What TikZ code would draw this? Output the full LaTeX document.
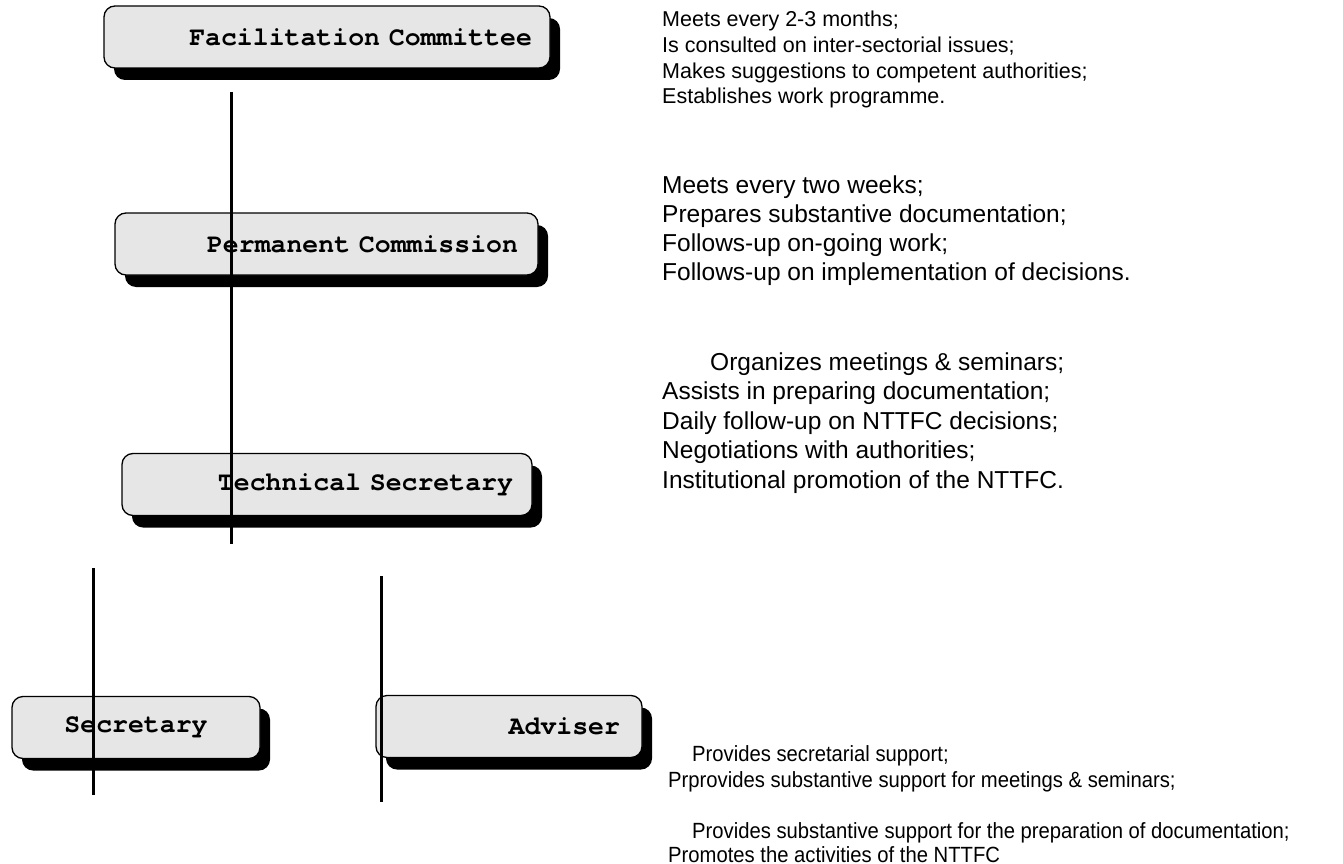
\documentclass[tikz,border=0pt]{standalone}
\usepackage{fontspec}
\setmainfont{Liberation Sans}
\newfontfamily\boxfont{TeX Gyre Cursor}
\newfontfamily\narrowfont{Liberation Sans}[FakeStretch=0.92]
\usetikzlibrary{shadows}
\definecolor{boxgray}{HTML}{E6E6E6}
\newcommand{\boxtextfont}{\boxfont\bfseries\fontsize{26.5}{30}\selectfont
  \spaceskip=0.62em\relax\xspaceskip=0.62em\relax}
\begin{document}
\begin{tikzpicture}[x=1pt,y=-1pt,
  orgbox/.style={draw=black, line width=1.3pt, fill=boxgray, rounded corners=11pt,
    font=\boxtextfont,
    drop shadow={fill=black, opacity=1, shadow xshift=10pt, shadow yshift=-12pt},
    inner ysep=0pt, minimum height=62pt},
  vline/.style={line width=3pt, black},
  smallnote/.style={anchor=base west, inner sep=0pt, font=\fontsize{21.5}{25}\selectfont},
  bignote/.style={anchor=base west, inner sep=0pt, font=\fontsize{24.5}{28}\selectfont},
  narrownote/.style={anchor=base west, inner sep=0pt, font=\narrowfont\fontsize{22}{26}\selectfont}]
\useasboundingbox (0,0) rectangle (1343,864);

% boxes
\node[orgbox, minimum width=446pt, inner xsep=18pt, text width=410pt, align=right] (fc) at (327,37) {Facilitation Committee};
\node[orgbox, minimum width=423pt, inner xsep=20pt, text width=383pt, align=right] (pc) at (326.5,244) {Permanent Commission};
\node[orgbox, minimum width=410pt, inner xsep=19pt, text width=372pt, align=right] (ts) at (327,484.5) {Technical Secretary};
\node[orgbox, minimum width=248pt, inner xsep=20pt, text width=208pt, align=center] (sec) at (136,727.5) {Secretary};
\node[orgbox, minimum width=266pt, inner xsep=22pt, text width=222pt, align=right] (adv) at (509,726.5) {Adviser};

% vertical lines
\coordinate (l1top) at (231,92);
\coordinate (l1bot) at (231,544);
\coordinate (l2top) at (93,568);
\coordinate (l2bot) at (93,795);
\coordinate (l3top) at (381,576);
\coordinate (l3bot) at (381,802);
\draw[vline] (l1top) -- (l1bot);
\draw[vline] (l2top) -- (l2bot);
\draw[vline] (l3top) -- (l3bot);

% notes: facilitation committee
\node[smallnote] (n1a) at (662,26.5) {Meets every 2-3 months;};
\node[smallnote] (n1b) at (662,52.5) {Is consulted on inter-sectorial issues;};
\node[smallnote] (n1c) at (662,78.5) {Makes suggestions to competent authorities;};
\node[smallnote] (n1d) at (662,104) {Establishes work programme.};

% notes: permanent commission
\node[bignote] (n2a) at (662,193) {Meets every two weeks;};
\node[bignote] (n2b) at (662,222) {Prepares substantive documentation;};
\node[bignote] (n2c) at (662,251) {Follows-up on-going work;};
\node[bignote] (n2d) at (662,280) {Follows-up on implementation of decisions.};

% notes: technical secretary
\node[bignote] (n3a) at (710,370) {Organizes meetings \& seminars;};
\node[bignote] (n3b) at (662,399.5) {Assists in preparing documentation;};
\node[bignote] (n3c) at (662,429) {Daily follow-up on NTTFC decisions;};
\node[bignote] (n3d) at (662,458.5) {Negotiations with authorities;};
\node[bignote] (n3e) at (662,488) {Institutional promotion of the NTTFC.};

% notes: secretary and adviser
\node[narrownote] (n4a) at (692,761) {Provides secretarial support;};
\node[narrownote] (n4b) at (668,787) {Prprovides substantive support for meetings \& seminars;};
\node[narrownote] (n5a) at (692,838) {Provides substantive support for the preparation of documentation;};
\node[narrownote] (n5b) at (668,862) {Promotes the activities of the NTTFC};
\end{tikzpicture}
\end{document}
